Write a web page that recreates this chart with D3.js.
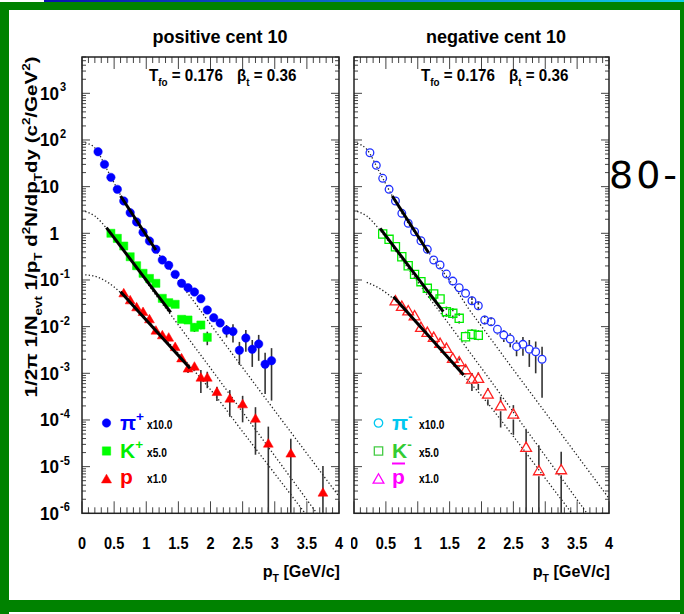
<!DOCTYPE html>
<html>
<head>
<meta charset="utf-8">
<script src="https://cdn.jsdelivr.net/npm/d3@7"></script>
<style>
  body { margin: 0; background: #fff; }
  svg { display: block; }
  text { font-family: "Liberation Sans", Arial, Helvetica, sans-serif; font-weight: bold; white-space: pre; }
  text.stray { font-family: "DejaVu Sans", sans-serif; font-weight: normal; }
</style>
</head>
<body>
<svg id="chart" width="684" height="614"></svg>
<script>
// ---- values (pT in GeV/c, yield already scaled) ----
const piPt = [0.25,0.35,0.45,0.55,0.65,0.75,0.85,0.95,1.05,1.15,1.25,1.35,1.45,1.55,1.65,1.75,1.85,1.95,2.05,2.15,2.25,2.35,2.45,2.55,2.65,2.75,2.85,2.95]
const kPt = [0.45,0.55,0.65,0.75,0.85,0.95,1.05,1.15,1.25,1.35,1.45,1.55,1.65,1.75,1.85,1.95]
const pPt = [0.65,0.75,0.85,0.95,1.05,1.15,1.25,1.35,1.45,1.55,1.65,1.75,1.85,1.95,2.1,2.3,2.5,2.7,2.9,3.25,3.75]
const pbarPt = [0.65,0.75,0.85,0.95,1.05,1.15,1.25,1.35,1.45,1.55,1.65,1.75,1.85,1.95,2.1,2.3,2.5,2.7,2.9,3.25]

// positive
const piPos = [56,30,15.8,8.75,4.92,2.76,1.75,1.05,0.684,0.454,0.268,0.206,0.132,0.0847,0.0682,0.0552,0.0396,0.0227,0.0155,0.012,0.00834,0.0079,0.00311,0.0057,0.00327,0.00425,0.00156,0.00186]
const piPosErr = [0,0,0,0,0,0,0,0,0,0,0,0,0,0,0,0,0,0.002,0.0015,0.0015,0.0025,0.0033,0.0016,0.0028,0.0019,0.0024,0.0012,0.0016]
const kPos = [1.0,0.78,0.534,0.315,0.202,0.139,0.108,0.0848,0.0404,0.0326,0.0301,0.01436,0.01387,0.00967,0.01084,0.0059]
const kPosErr = [0,0,0,0,0,0,0,0,0,0,0,0.0015,0.0015,0.002,0.002,0.0019]
const pPos = [0.05,0.0354,0.0251,0.0199,0.01387,0.00794,0.0063,0.00562,0.00353,0.00202,0.00122,0.00134,0.00078,0.00078,0.000384,0.000277,0.000209,0.000103,3.0e-5,1.84e-5,2.68e-6]
const pPosErr = [0,0,0,0,0,0,0,0,0,0,0.0002,0.0002,0.0004,0.0003,0.00013,0.00016,0.00012,0.000085,0.000042,0.000021,0.0000076]

// negative
const piNeg = [53.3,28.6,15.1,8.75,4.92,2.68,1.64,1.08,0.693,0.454,0.268,0.209,0.134,0.0948,0.0682,0.0518,0.0359,0.028,0.01387,0.01274,0.00877,0.0066,0.00543,0.00372,0.00418,0.00327,0.0029,0.002]
const piNegErr = [0,0,0,0,0,0,0,0,0,0,0,0,0,0,0,0,0.0015,0.0015,0.0015,0.0015,0.002,0.0019,0.0018,0.0014,0.0018,0.0019,0.0019,0.0017]
const kNeg = [0.966,0.743,0.516,0.315,0.202,0.132,0.0918,0.0662,0.05,0.0391,0.0209,0.0193,0.01507,0.00608,0.00684,0.00652]
const kNegErr = [0,0,0,0,0,0,0,0,0,0,0.002,0.002,0.002,0.0015,0.0015,0.0015]
const pbarNeg = [0.0342,0.026,0.0209,0.0163,0.0092,0.0072,0.00562,0.00418,0.00327,0.002,0.00169,0.00114,0.000718,0.000743,0.000343,0.000192,0.000128,2.47e-5,7.8e-6,8.2e-6]
const pbarNegErr = [0,0,0,0,0,0,0,0,0,0,0.0002,0.0002,0.0003,0.0003,0.00014,0.000123,0.00008,0.000036,0.000021,0.0000127]

// blast-wave curves (dotted), sampled along the drawn curves
const curvePt = [0.05,0.2,0.4,0.6,0.8,1.0,1.2,1.4,1.6,1.8,2.0,2.5,3.0,3.5,4.0]
const piCurvePos = [87,67.6,21.9,6.61,2.14,0.832,0.347,0.151,0.0631,0.0269,0.0112,0.00132,0.000158,1.91e-5,2.29e-6]
const kCurvePos = [2.95,2.34,1.2,0.525,0.219,0.0912,0.038,0.0166,0.00708,0.00302,0.00129,0.000148,1.7e-5,1.95e-6,2.24e-7]
const pCurvePos = [0.129,0.12,0.0891,0.0537,0.0282,0.0148,0.00759,0.0038,0.00191,0.000933,0.000447,5.62e-5,7.08e-6,8.91e-7,1.12e-7]
const piCurveNeg = [85.1,63.1,20.4,6.31,2.09,0.832,0.347,0.148,0.0631,0.024,0.0102,0.0012,0.000145,1.74e-5,2.09e-6]
const kCurveNeg = [2.95,2.34,1.2,0.525,0.219,0.0912,0.038,0.0166,0.00708,0.00302,0.00129,0.000148,1.7e-5,1.95e-6,2.24e-7]
const pCurveNeg = [null,0.0891,0.0661,0.0417,0.0219,0.0112,0.00562,0.00282,0.00138,0.000676,0.000331,4.47e-5,5.62e-6,7.08e-7,8.91e-8]

// fit ranges (thick black)
const piFitPosPt = [0.6, 1.15], piFitPos = [6.3, 0.438]
const kFitPosPt = [0.38, 1.38], kFitPos = [1.32, 0.0203]
const pFitPosPt = [0.6, 1.68], pFitPos = [0.056, 0.00128]
const piFitNegPt = [0.6, 1.17], piFitNeg = [6.3, 0.384]
const kFitNegPt = [0.41, 1.4], kFitNeg = [1.28, 0.0209]
const pFitNegPt = [0.62, 1.72], pFitNeg = [0.0438, 0.00092]

const yExps = [3,2,1,0,-1,-2,-3,-4,-5,-6]
const xTickLabels = ["0","0.5","1","1.5","2","2.5","3","3.5","4"]
const scaleLabels = ["x10.0","x5.0","x1.0"]

const svg = d3.select("#chart")
const defs = svg.append("defs")

svg.append("rect").attr("width", 684).attr("height", 614).attr("fill", "#fff")

// helpers
function txt(parent, x, y, s, size, anchor, sx, fill) {
  return parent.append("text")
    .attr("transform", `translate(${x},${y}) scale(${sx},1)`)
    .attr("text-anchor", anchor)
    .attr("font-size", size)
    .attr("fill", fill || "#000")
    .text(s)
}
function rich(parent, x, y, parts, size, anchor, sx, fill, rot) {
  const t = parent.append("text")
    .attr("transform", `translate(${x},${y})` + (rot ? ` rotate(${rot})` : "") + ` scale(${sx},1)`)
    .attr("text-anchor", anchor)
    .attr("font-size", size)
    .attr("fill", fill || "#000")
  let cur = 0
  parts.forEach(([s, kind]) => {
    const target = kind === "sup" ? -0.45 * size : kind === "sub" ? 0.3 * size : 0
    t.append("tspan").attr("dy", target - cur).attr("font-size", kind === "n" ? size : size * 0.65).text(s)
    cur = target
  })
  return t
}

const y = d3.scaleLog().domain([1e-6, 6000]).range([513.3, 57])
const xL = d3.scaleLinear().domain([0, 4]).range([82, 339])
const xR = d3.scaleLinear().domain([0, 4]).range([354, 609])

const panels = [
  {
    id: "L", x: xL, title: "positive cent 10", titleX: 220, titleLen: 135, padLeft: 0,
    series: [
      { pt: piPt, v: piPos, e: piPosErr, sym: d3.symbolCircle, size: 56, color: "#0000ff", open: false },
      { pt: kPt, v: kPos, e: kPosErr, sym: d3.symbolSquare, size: 66, color: "#00ff00", open: false },
      { pt: pPt, v: pPos, e: pPosErr, sym: d3.symbolTriangle, size: 42, color: "#ff0000", open: false }
    ],
    curves: [piCurvePos, kCurvePos, pCurvePos],
    fits: [[piFitPosPt, piFitPos], [kFitPosPt, kFitPos], [pFitPosPt, pFitPos]],
    legend: [
      { sym: d3.symbolCircle, size: 56, color: "#0000ff", open: false, name: "π", sup: "+", tc: "#0000ff" },
      { sym: d3.symbolSquare, size: 70, color: "#00ff00", open: false, name: "K", sup: "+", tc: "#00ee00" },
      { sym: d3.symbolTriangle, size: 44, color: "#ff0000", open: false, name: "p", sup: "", tc: "#ff0000" }
    ]
  },
  {
    id: "R", x: xR, title: "negative cent 10", titleX: 496, titleLen: 140, padLeft: 351,
    series: [
      { pt: piPt, v: piNeg, e: piNegErr, sym: d3.symbolCircle, size: 46, color: "#2030ff", open: true },
      { pt: kPt, v: kNeg, e: kNegErr, sym: d3.symbolSquare, size: 66, color: "#00ee00", open: true },
      { pt: pbarPt, v: pbarNeg, e: pbarNegErr, sym: d3.symbolTriangle, size: 50, color: "#ff2020", open: true }
    ],
    curves: [piCurveNeg, kCurveNeg, pCurveNeg],
    fits: [[piFitNegPt, piFitNeg], [kFitNegPt, kFitNeg], [pFitNegPt, pFitNeg]],
    legend: [
      { sym: d3.symbolCircle, size: 56, color: "#00c8f0", open: true, name: "π", sup: "-", tc: "#00c8f0" },
      { sym: d3.symbolSquare, size: 70, color: "#44cc44", open: true, name: "K", sup: "-", tc: "#33cc33", bar: true },
      { sym: d3.symbolTriangle, size: 50, color: "#ff00ff", open: true, name: "p", sup: "", tc: "#ff00ff" }
    ]
  }
]

panels.forEach(P => {
  const xs = P.x
  const x0 = xs.range()[0], x1 = xs.range()[1]
  const yTop = y.range()[1], yBot = y.range()[0]
  const g = svg.append("g")

  defs.append("clipPath").attr("id", "clip" + P.id)
    .append("rect").attr("x", x0).attr("y", yTop).attr("width", x1 - x0).attr("height", yBot - yTop)

  // title and parameters
  txt(g, P.titleX, 43, P.title, 19, "middle", 1).attr("textLength", P.titleLen).attr("lengthAdjust", "spacingAndGlyphs")
  rich(g, x0 + 67, 81, [["T", "n"], ["fo", "sub"], [" = 0.176", "n"]], 16.5, "start", 0.92)
  rich(g, x0 + 155, 81, [["β", "n"], ["t", "sub"], [" = 0.36", "n"]], 16.5, "start", 0.92)

  // x ticks, top and bottom, pointing inside
  const ticks = g.append("g").attr("stroke", "#444").attr("stroke-width", 1)
  xs.ticks(40).forEach(t => {
    const major = Math.abs(t * 2 - Math.round(t * 2)) < 1e-6
    const len = major ? 12 : 6
    ticks.append("line").attr("x1", xs(t)).attr("x2", xs(t)).attr("y1", yBot).attr("y2", yBot - len)
    ticks.append("line").attr("x1", xs(t)).attr("x2", xs(t)).attr("y1", yTop).attr("y2", yTop + len)
  })
  // y ticks (log), both sides
  y.ticks().forEach(t => {
    const major = Math.abs(Math.log10(t) - Math.round(Math.log10(t))) < 1e-6
    const len = major ? 8 : 4
    ticks.append("line").attr("x1", x0).attr("x2", x0 + len).attr("y1", y(t)).attr("y2", y(t))
    ticks.append("line").attr("x1", x1).attr("x2", x1 - len).attr("y1", y(t)).attr("y2", y(t))
  })

  g.append("rect").attr("x", x0).attr("y", yTop).attr("width", x1 - x0).attr("height", yBot - yTop)
    .attr("fill", "none").attr("stroke", "#222").attr("stroke-width", 1.5)

  // x tick labels, clipped at the pad edge
  defs.append("clipPath").attr("id", "pad" + P.id)
    .append("rect").attr("x", P.padLeft).attr("y", 0).attr("width", 684).attr("height", 614)
  const xl = g.append("g").attr("clip-path", `url(#pad${P.id})`)
  xTickLabels.forEach(s => txt(xl, xs(+s), 549, s, 16.5, "middle", 0.88))
  rich(g, x1 + 1, 577, [["p", "n"], ["T", "sub"], [" [GeV/c]", "n"]], 17, "end", 0.95)

  const plot = g.append("g").attr("clip-path", `url(#clip${P.id})`)

  // dotted model curves
  const line = d3.line()
    .defined(d => d[1] != null)
    .x(d => xs(d[0])).y(d => y(d[1]))
    .curve(d3.curveMonotoneX)
  P.curves.forEach(c => {
    plot.append("path").datum(curvePt.map((p, i) => [p, c[i]]))
      .attr("d", line).attr("fill", "none")
      .attr("stroke", "#222").attr("stroke-width", 1.3).attr("stroke-dasharray", "1.3 2.2")
  })

  // error bars then markers
  P.series.forEach(S => {
    const r = Math.sqrt(S.size / Math.PI) + 0.5
    S.pt.forEach((p, i) => {
      const e = S.e[i]
      if (!e) return
      const cx = xs(p), cy = y(S.v[i])
      const hi = y(S.v[i] + e)
      const lo = S.v[i] - e > 1e-6 ? y(S.v[i] - e) : yBot
      if (S.open) {
        plot.append("line").attr("x1", cx).attr("x2", cx).attr("y1", hi).attr("y2", cy - r)
          .attr("stroke", "#333").attr("stroke-width", 1.6)
        plot.append("line").attr("x1", cx).attr("x2", cx).attr("y1", cy + r).attr("y2", lo)
          .attr("stroke", "#333").attr("stroke-width", 1.6)
      } else {
        plot.append("line").attr("x1", cx).attr("x2", cx).attr("y1", hi).attr("y2", lo)
          .attr("stroke", "#333").attr("stroke-width", 1.6)
      }
    })
    plot.append("g").selectAll("path").data(S.pt.map((p, i) => [p, S.v[i]]))
      .join("path")
      .attr("transform", d => `translate(${xs(d[0])},${y(d[1])})`)
      .attr("d", d3.symbol(S.sym, S.size))
      .attr("fill", S.open ? "none" : S.color)
      .attr("stroke", S.color).attr("stroke-width", S.open ? 1.3 : 0.5)
  })

  // fit lines
  P.fits.forEach(([pts, vals]) => {
    plot.append("path").datum(pts.map((p, i) => [p, vals[i]]))
      .attr("d", d3.line().x(d => xs(d[0])).y(d => y(d[1])))
      .attr("fill", "none").attr("stroke", "#000").attr("stroke-width", 3)
  })

  // legend
  const rows = [423, 451, 480]
  const textBase = [430, 458, 484]
  P.legend.forEach((L, i) => {
    g.append("path")
      .attr("transform", `translate(${x0 + 24.5},${rows[i]})`)
      .attr("d", d3.symbol(L.sym, L.size))
      .attr("fill", L.open ? "none" : L.color)
      .attr("stroke", L.color).attr("stroke-width", L.open ? 1.3 : 0.5)
    const parts = [[L.name, "n"]]
    if (L.sup) parts.push([L.sup, "sup"])
    rich(g, x0 + 38, textBase[i], parts, 21, "start", 1, L.tc)
    txt(g, x0 + 65, textBase[i] - 1, scaleLabels[i], 12, "start", 0.85)
    if (L.bar) {
      g.append("line").attr("x1", x0 + 38).attr("x2", x0 + 51)
        .attr("y1", 463.5).attr("y2", 463.5).attr("stroke", "#ff00ff").attr("stroke-width", 2)
    }
  })
})

// y tick labels (left panel only)
const yl = svg.append("g")
yExps.forEach(k => {
  const ty = y(Math.pow(10, k)) + 6.5
  if (k === 0) txt(yl, 59, ty, "1", 18, "end", 0.95)
  else if (k === 1) txt(yl, 59, ty, "10", 18, "end", 0.95)
  else {
    txt(yl, 59, ty, "10", 18, "end", 0.95)
    txt(yl, 60, ty - 8.5, String(k), 12, "start", 0.92)
  }
})

// y axis title
rich(svg, 37, 227, [["1/2π 1/N", "n"], ["evt", "sub"], [" 1/p", "n"], ["T", "sub"], [" d", "n"], ["2", "sup"],
  ["N/dp", "n"], ["T", "sub"], ["dy (c", "n"], ["2", "sup"], ["/GeV", "n"], ["2", "sup"], [")", "n"]],
  16, "middle", 1, "#000", -90).attr("textLength", 341).attr("lengthAdjust", "spacingAndGlyphs")

// leftover label at the right edge
svg.append("text").attr("class", "stray").attr("x", 609).attr("y", 188)
  .attr("font-size", 38).attr("letter-spacing", 3).text("80-")

// window frame
const grad = defs.append("linearGradient").attr("id", "bar")
grad.append("stop").attr("offset", "0").attr("stop-color", "#0a10b0")
grad.append("stop").attr("offset", "1").attr("stop-color", "#10d0e8")
svg.append("rect").attr("x", 44).attr("y", 0).attr("width", 640).attr("height", 2).attr("fill", "url(#bar)")
const green = "#008200"
svg.append("rect").attr("x", 0).attr("y", 2).attr("width", 684).attr("height", 8).attr("fill", green)
svg.append("rect").attr("x", 0).attr("y", 2).attr("width", 9).attr("height", 612).attr("fill", green)
svg.append("rect").attr("x", 680).attr("y", 2).attr("width", 4).attr("height", 612).attr("fill", green)
svg.append("rect").attr("x", 0).attr("y", 600).attr("width", 684).attr("height", 12).attr("fill", green)
</script>
</body>
</html>
